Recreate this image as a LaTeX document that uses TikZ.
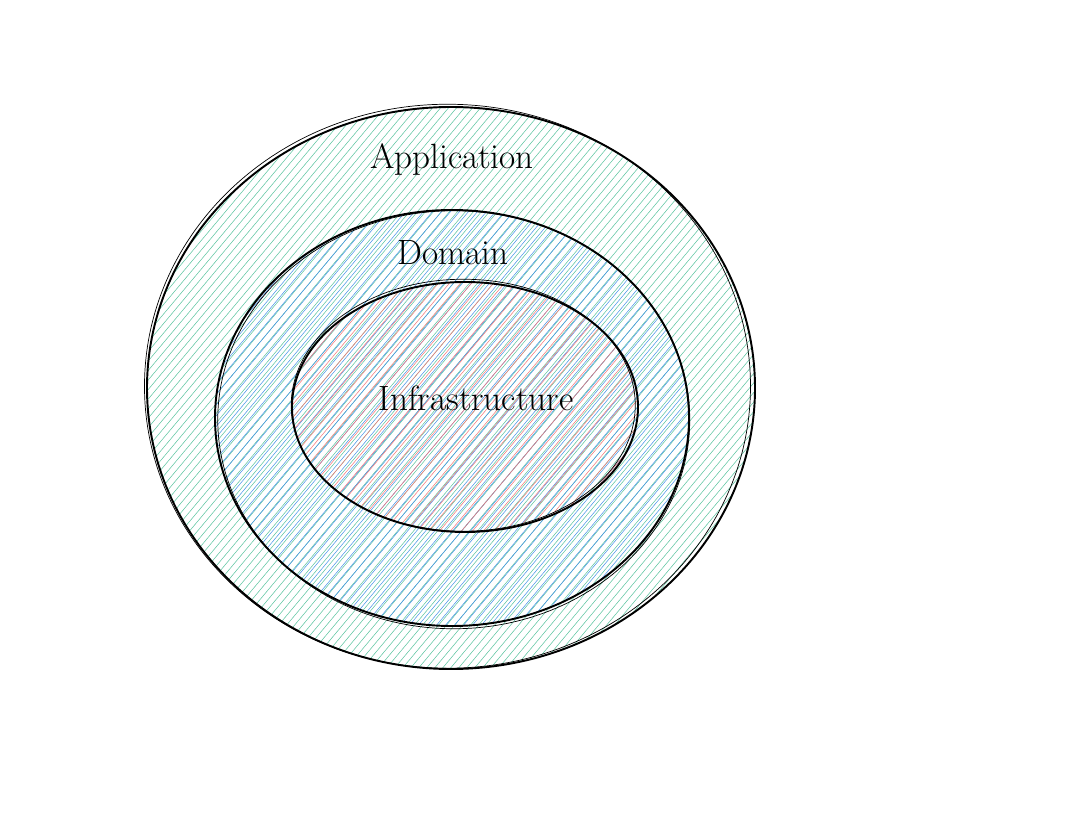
\documentclass[tikz,border=0pt]{standalone}
\usetikzlibrary{positioning}

\definecolor{appgreen}{RGB}{92,196,160}
\definecolor{domblue}{RGB}{74,150,232}
\definecolor{infrared}{RGB}{246,120,120}

\begin{document}
\begin{tikzpicture}[
  x=0.02cm,y=-0.02cm,
  ring/.style={draw=black,line width=1.1pt},
  ringb/.style={draw=black,line width=0.4pt},
  hatch/.style={line width=0.3pt},
  lbl/.style={font=\fontsize{20}{24}\selectfont,inner sep=1pt}]

\useasboundingbox (0,0) rectangle (1078,830);

% --- centres of the three layers (pixel grid, y down) ---
\coordinate (cApp) at (451,388);
\coordinate (cDom) at (452,418);
\coordinate (cInf) at (465,407);

% --- outer layer: green hatching ---
\begin{scope}
  \clip (cApp) ellipse [x radius=304, y radius=281];
  \foreach \i in {-560,-552,...,600}
    \draw[hatch,appgreen] (\i,900) -- ++(755,-900);
\end{scope}
\draw[ring] (cApp) ellipse [x radius=304, y radius=281];
\draw[ringb] ([xshift=-2pt,yshift=1pt]cApp) ellipse [x radius=303, y radius=282];

% --- middle layer: blue hatching ---
\begin{scope}
  \clip (cDom) ellipse [x radius=237, y radius=208];
  \foreach \i in {-500,-491,...,560}
    \draw[hatch,domblue] (\i+4,900) -- ++(755,-900);
\end{scope}
\draw[ring] (cDom) ellipse [x radius=237, y radius=208];
\draw[ringb] ([xshift=1pt,yshift=-1pt]cDom) ellipse [x radius=236, y radius=209];

% --- inner layer: red hatching ---
\begin{scope}
  \clip (cInf) ellipse [x radius=173, y radius=125];
  \foreach \i in {-400,-389,...,500}
    \draw[hatch,infrared] (\i+2,900) -- ++(755,-900);
\end{scope}
\draw[ring] (cInf) ellipse [x radius=173, y radius=125];
\draw[ringb] ([xshift=-1pt,yshift=1pt]cInf) ellipse [x radius=172, y radius=126];

% --- labels ---
\node[lbl] (app) at (452,160) {Application};
\node[lbl] (dom) at (453,253) {Domain};
\node[lbl] (inf) at (476,398) {Infrastructure};

\end{tikzpicture}
\end{document}
